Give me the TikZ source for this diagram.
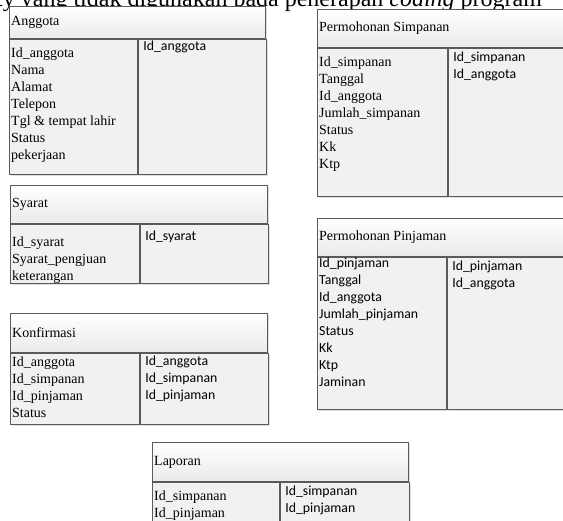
\documentclass[tikz,border=0pt]{standalone}
\usepackage{fontspec}
\setmainfont{Liberation Serif}
\newfontfamily\calfont{Carlito}
\usetikzlibrary{shadows}
\definecolor{bordc}{HTML}{5A5A5A}
\definecolor{hdrgray}{HTML}{EAEAEA}
\definecolor{bodygray}{HTML}{F1F1F1}
\tikzset{
  x=1pt, y=-1pt,
  boxbase/.style={draw=bordc, line width=1.1pt, anchor=north west, inner sep=0pt,
    drop shadow={shadow xshift=1.5pt, shadow yshift=-1.5pt, opacity=0.25, fill=gray}},
  hdrbox/.style={boxbase, top color=white, bottom color=hdrgray},
  bodybox/.style={boxbase, fill=bodygray},
  hdrtext/.style={anchor=west, inner sep=0pt, font=\fontsize{14}{17}\selectfont},
  serlist/.style={anchor=north west, inner sep=0pt, align=left, font=\fontsize{14}{17}\selectfont},
  callist/.style={anchor=north west, inner sep=0pt, align=left, font=\calfont\fontsize{13.8}{17}\selectfont},
}
\begin{document}
\begin{tikzpicture}
\useasboundingbox (0,0) rectangle (563,521);
\clip (0,0) rectangle (563,521);
\fill[white] (0,0) rectangle (563,521);

% clipped caption line at the top
\node[anchor=base west, inner sep=0pt, font=\fontsize{24}{28}\selectfont] (cap) at (-40,7)
  {entity yang tidak digunakan pada penerapan \textit{coding} program};

% ---------- Anggota ----------
\node[hdrbox, minimum width=256, minimum height=32] (agH) at (9,6) {};
\node[hdrtext] (agT) at ([xshift=2pt]agH.west) {Anggota};
\node[bodybox, minimum width=128, minimum height=135] (agL) at (agH.south west) {};
\node[bodybox, minimum width=128, minimum height=135] (agR) at (agL.north east) {};
\node[serlist] (agLt) at ([shift={(2,8)}]agL.north west)
  {Id\_anggota\\Nama\\Alamat\\Telepon\\Tgl \& tempat lahir\\Status\\pekerjaan};
\node[callist] (agRt) at ([shift={(5,2)}]agR.north west) {Id\_anggota};

% ---------- Permohonan Simpanan ----------
\node[hdrbox, minimum width=258, minimum height=38] (psH) at (317,9) {};
\node[hdrtext] (psT) at ([xshift=2pt]psH.west) {Permohonan Simpanan};
\node[bodybox, minimum width=130, minimum height=148] (psL) at (psH.south west) {};
\node[bodybox, minimum width=128, minimum height=148] (psR) at (psL.north east) {};
\node[serlist] (psLt) at ([shift={(2,8)}]psL.north west)
  {Id\_simpanan\\Tanggal\\Id\_anggota\\Jumlah\_simpanan\\Status\\Kk\\Ktp};
\node[callist] (psRt) at ([shift={(5,4)}]psR.north west) {Id\_simpanan\\Id\_anggota};

% ---------- Syarat ----------
\node[hdrbox, minimum width=257, minimum height=38] (syH) at (10,185) {};
\node[hdrtext] (syT) at ([xshift=2pt]syH.west) {Syarat};
\node[bodybox, minimum width=129, minimum height=59] (syL) at (syH.south west) {};
\node[bodybox, minimum width=128, minimum height=59] (syR) at (syL.north east) {};
\node[serlist] (syLt) at ([shift={(2,12)}]syL.north west)
  {Id\_syarat\\Syarat\_pengjuan\\keterangan};
\node[callist] (syRt) at ([shift={(5,7)}]syR.north west) {Id\_syarat};

% ---------- Permohonan Pinjaman ----------
\node[hdrbox, minimum width=258, minimum height=38] (ppH) at (317,218) {};
\node[hdrtext] (ppT) at ([xshift=2pt]ppH.west) {Permohonan Pinjaman};
\node[bodybox, minimum width=129, minimum height=152] (ppL) at (ppH.south west) {};
\node[bodybox, minimum width=129, minimum height=152] (ppR) at (ppL.north east) {};
\node[callist] (ppLt) at ([shift={(2,0.5)}]ppL.north west)
  {Id\_pinjaman\\Tanggal\\Id\_anggota\\Jumlah\_pinjaman\\Status\\Kk\\Ktp\\Jaminan};
\node[callist] (ppRt) at ([shift={(5,4)}]ppR.north west) {Id\_pinjaman\\Id\_anggota};

% ---------- Konfirmasi ----------
\node[hdrbox, minimum width=257, minimum height=39] (koH) at (10,313) {};
\node[hdrtext] (koT) at ([xshift=2pt]koH.west) {Konfirmasi};
\node[bodybox, minimum width=129, minimum height=71] (koL) at (koH.south west) {};
\node[bodybox, minimum width=128, minimum height=71] (koR) at (koL.north east) {};
\node[serlist] (koLt) at ([shift={(2,3)}]koL.north west)
  {Id\_anggota\\Id\_simpanan\\Id\_pinjaman\\Status};
\node[callist] (koRt) at ([shift={(5,3)}]koR.north west) {Id\_anggota\\Id\_simpanan\\Id\_pinjaman};

% ---------- Laporan ----------
\node[hdrbox, minimum width=256, minimum height=39] (lpH) at (152,442) {};
\node[hdrtext] (lpT) at ([xshift=2pt]lpH.west) {Laporan};
\node[bodybox, minimum width=127, minimum height=60] (lpL) at (lpH.south west) {};
\node[bodybox, minimum width=129, minimum height=60] (lpR) at (lpL.north east) {};
\node[serlist] (lpLt) at ([shift={(2,8)}]lpL.north west) {Id\_simpanan\\Id\_pinjaman};
\node[callist] (lpRt) at ([shift={(5,4)}]lpR.north west) {Id\_simpanan\\Id\_pinjaman};
\end{tikzpicture}
\end{document}
